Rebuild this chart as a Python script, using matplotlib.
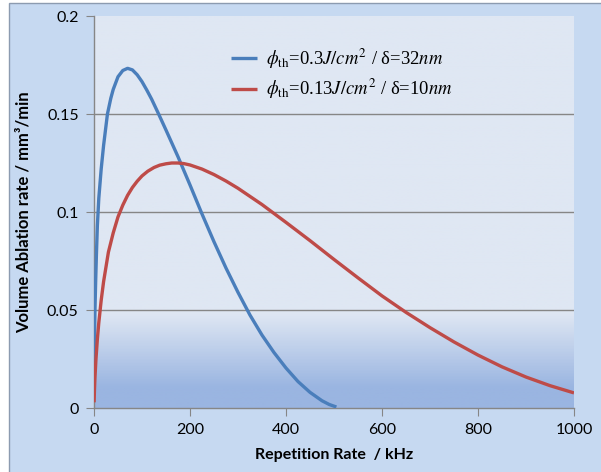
import numpy as np
import matplotlib
matplotlib.use('Agg')
import matplotlib.pyplot as plt
from matplotlib.colors import LinearSegmentedColormap
from matplotlib.patches import Rectangle

# Daten
rate_blue = [0.3, 1, 2, 3.5, 5, 7, 10, 15, 20, 28, 35, 40, 50, 60, 70, 80, 90, 100, 110,
             120, 135, 150, 175, 200, 225, 250, 275, 300, 325, 350, 375, 400, 425, 450,
             475, 490, 505]
vol_blue = [0.012, 0.035, 0.050, 0.065, 0.078, 0.093, 0.107, 0.122, 0.134, 0.150, 0.158,
            0.1625, 0.169, 0.1722, 0.1733, 0.1725, 0.170, 0.1665, 0.1622, 0.1576, 0.1498,
            0.1418, 0.1282, 0.1138, 0.0990, 0.0848, 0.0714, 0.0590, 0.0474, 0.0372, 0.0283,
            0.0204, 0.0135, 0.0080, 0.0037, 0.0018, 0.0005]
rate_red = [0.2, 1, 2, 4, 7, 10, 15, 20, 30, 40, 50, 60, 70, 80, 90, 100, 112, 125, 137,
            150, 162, 175, 187, 200, 225, 250, 275, 300, 350, 400, 450, 500, 550, 600, 650,
            700, 750, 800, 850, 900, 950, 1000]
vol_red = [0.0029, 0.0095, 0.0155, 0.0246, 0.0351, 0.0435, 0.0550, 0.0645, 0.0795, 0.0893,
           0.0975, 0.1035, 0.1085, 0.1125, 0.1157, 0.1184, 0.1208, 0.1227, 0.1239, 0.1246,
           0.1250, 0.1250, 0.1247, 0.1240, 0.1219, 0.1191, 0.1158, 0.1121, 0.1038, 0.0947,
           0.0854, 0.0758, 0.0664, 0.0572, 0.0488, 0.0410, 0.0337, 0.0270, 0.0210, 0.0158,
           0.0114, 0.0077]
labels = [r'$\phi_{\rm th}$=0.3$J/cm^2$ / δ=32$nm$',
          r'$\phi_{\rm th}$=0.13$J/cm^2$ / δ=10$nm$']
xticks = [0, 200, 400, 600, 800, 1000]
yticks = [0, 0.05, 0.1, 0.15, 0.2]
ytick_labels = ['0', '0.05', '0.1', '0.15', '0.2']

plt.rcParams['mathtext.fontset'] = 'stix'
plt.rcParams['font.family'] = ['Lato', 'DejaVu Sans']

fig = plt.figure(figsize=(6.01, 4.72), dpi=100)
fig.patch.set_facecolor('white')
# Diagrammbereich
fig.patches.append(Rectangle((9/601, -0.1), 1.2, 1 - 3/472 + 0.1, transform=fig.transFigure,
                             facecolor='#C6D9F1', edgecolor='#8C9BB0', linewidth=1.0, zorder=-10))

ax = fig.add_axes([94/601, 1 - 408/472, 480/601, 392/472])
ax.set_xlim(0, 1000)
ax.set_ylim(0, 0.2)

# Hintergrund mit Farbverlauf
cmap = LinearSegmentedColormap.from_list('bg', [(0, '#9AB5E1'), (0.05, '#9AB5E1'),
                                                (0.24, '#DFE7F3'), (1, '#DFE7F3')])
grad = np.linspace(0, 1, 400).reshape(-1, 1)
ax.imshow(grad, cmap=cmap, aspect='auto', origin='lower', extent=(0, 1, 0, 1),
          transform=ax.transAxes, zorder=0)

for yv in yticks[1:-1]:
    ax.axhline(yv, color='#868686', linewidth=1.0, zorder=1)

ax.plot(rate_blue, vol_blue, color='#4A7EBB', linewidth=2.4, label=labels[0], zorder=3,
        solid_capstyle='butt', solid_joinstyle='round')
ax.plot(rate_red, vol_red, color='#BE4B48', linewidth=2.4, label=labels[1], zorder=3,
        solid_capstyle='butt', solid_joinstyle='round')

for s in ['top', 'right']:
    ax.spines[s].set_visible(False)
for s in ['left', 'bottom']:
    ax.spines[s].set_color('#868686')
    ax.spines[s].set_linewidth(1.0)

ax.set_xticks(xticks)
ax.set_yticks(yticks)
ax.set_yticklabels(ytick_labels)
ax.tick_params(direction='out', length=6, color='#868686', labelsize=11.5, labelcolor='black')
ax.tick_params(axis='x', pad=5)
ax.tick_params(axis='y', pad=5)

ax.set_xlabel('Repetition Rate  / kHz', fontsize=11.5, fontweight='bold', labelpad=8)
ax.set_ylabel('Volume Ablation rate / mm³/min', fontsize=12, fontweight='bold', labelpad=11)

leg = ax.legend(loc='upper left', bbox_to_anchor=(0.285, 0.922), frameon=False,
                prop={'family': 'Liberation Serif', 'size': 13.4}, handlelength=1.4,
                labelspacing=0.32, handletextpad=0.5, borderpad=0, borderaxespad=0)

fig.savefig('out.png', dpi=100, facecolor=fig.get_facecolor())
